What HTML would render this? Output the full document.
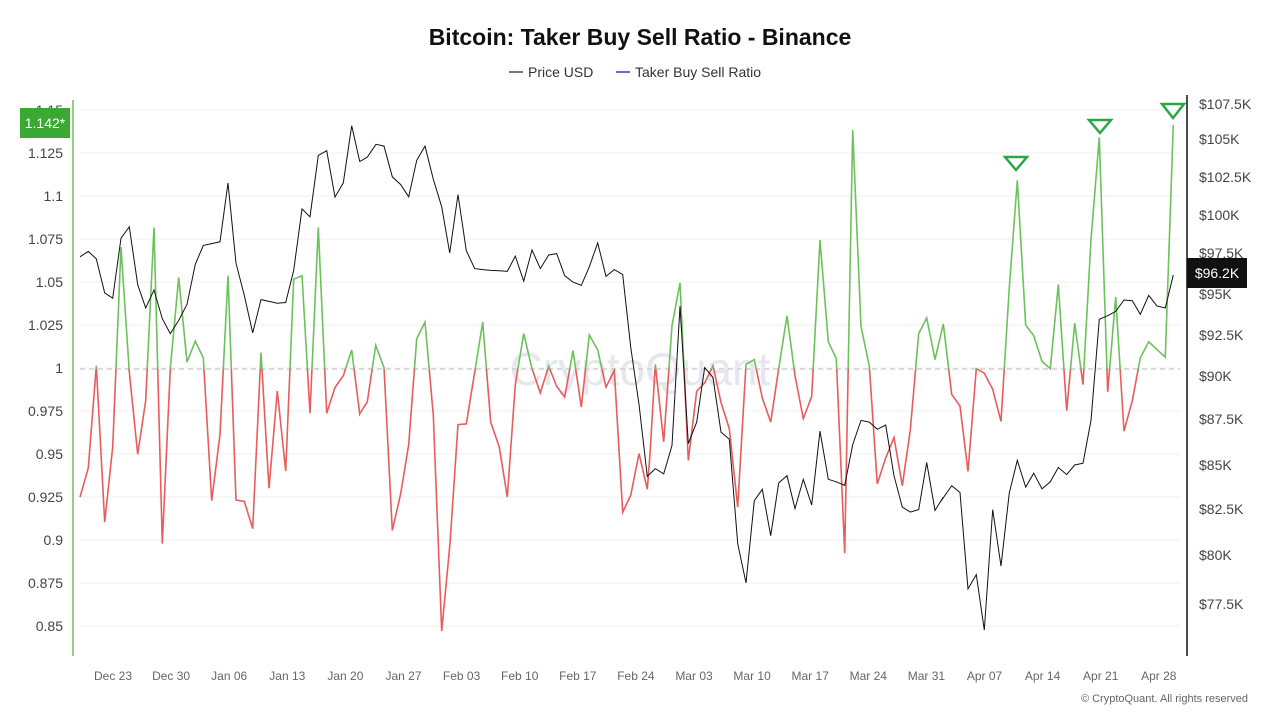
<!DOCTYPE html>
<html><head><meta charset="utf-8"><style>
body{margin:0;background:#fff;width:1280px;height:720px;overflow:hidden;font-family:"Liberation Sans",sans-serif}
svg text{font-family:"Liberation Sans",sans-serif}
</style></head><body>
<svg id="s" width="1280" height="720" xmlns="http://www.w3.org/2000/svg">
<text x="640" y="45" text-anchor="middle" font-size="23" font-weight="bold" fill="#111">Bitcoin: Taker Buy Sell Ratio - Binance</text>
<line x1="509" y1="72" x2="523" y2="72" stroke="#222" stroke-width="1.2"/>
<text x="528" y="77" font-size="14" fill="#333">Price USD</text>
<line x1="616" y1="72" x2="630" y2="72" stroke="#3b3bd6" stroke-width="1.5"/>
<text x="635" y="77" font-size="14" fill="#333">Taker Buy Sell Ratio</text>
<text x="640" y="385" text-anchor="middle" font-size="46" fill="#e6e6ee">CryptoQuant</text>
<g id="grid"></g>
<line x1="80" y1="369" x2="1180" y2="369" stroke="#c8c8d0" stroke-width="1.2" stroke-dasharray="5,4"/>
<defs>
<clipPath id="up"><rect x="0" y="0" width="1280" height="369"/></clipPath>
<clipPath id="dn"><rect x="0" y="369" width="1280" height="400"/></clipPath>
</defs>
<polyline id="pg" fill="none" stroke="#6cc25a" stroke-width="1.6" clip-path="url(#up)"/>
<polyline id="pr" fill="none" stroke="#e85c5c" stroke-width="1.6" clip-path="url(#dn)"/>
<polyline id="pp" fill="none" stroke="#111" stroke-width="1"/>
<g fill="none" stroke="#2aa845" stroke-width="2.5">
<polygon points="1005,157 1027,157 1016,170"/>
<polygon points="1089,120 1111,120 1100,133"/>
<polygon points="1162,104 1184,104 1173,118"/>
</g>
<line x1="73" y1="100" x2="73" y2="656" stroke="#6cc25a" stroke-width="1.5"/>
<line x1="1187" y1="95" x2="1187" y2="656" stroke="#111" stroke-width="1.5"/>
<g id="lt" font-size="14" fill="#444" text-anchor="end"></g>
<g id="rt" font-size="14" fill="#444"></g>
<rect x="20" y="108" width="50" height="30" fill="#3aa832"/>
<text x="45" y="128" text-anchor="middle" font-size="14" fill="#fff">1.142*</text>
<rect x="1187" y="258" width="60" height="30" fill="#111"/>
<text x="1217" y="278" text-anchor="middle" font-size="14" fill="#fff">$96.2K</text>
<g id="xt" font-size="12" fill="#666" text-anchor="middle"></g>
<text x="1248" y="702" text-anchor="end" font-size="11" fill="#666">© CryptoQuant. All rights reserved</text>
</svg>
<script>
var NS="http://www.w3.org/2000/svg";
function t(g,x,y,s){var e=document.createElementNS(NS,"text");e.setAttribute("x",x);e.setAttribute("y",y);e.textContent=s;document.getElementById(g).appendChild(e);}
var L=["1.15","1.125","1.1","1.075","1.05","1.025","1","0.975","0.95","0.925","0.9","0.875","0.85"];
for(var i=0;i<L.length;i++){var y=110+i*43;t("lt",63,y+5,L[i]);
var l=document.createElementNS(NS,"line");l.setAttribute("x1",80);l.setAttribute("x2",1180);l.setAttribute("y1",y);l.setAttribute("y2",y);l.setAttribute("stroke","#f2f2f2");document.getElementById("grid").appendChild(l);}
var R=[["$107.5K",104],["$105K",139],["$102.5K",177],["$100K",215],["$97.5K",253],["$95K",294],["$92.5K",335],["$90K",376],["$87.5K",419],["$85K",465],["$82.5K",509],["$80K",555],["$77.5K",604]];
R.forEach(function(r){t("rt",1199,r[1]+5,r[0]);});
var X=["Dec 23","Dec 30","Jan 06","Jan 13","Jan 20","Jan 27","Feb 03","Feb 10","Feb 17","Feb 24","Mar 03","Mar 10","Mar 17","Mar 24","Mar 31","Apr 07","Apr 14","Apr 21","Apr 28"];
X.forEach(function(s,i){t("xt",113+i*58.1,680,s);});
var RA=[[70,[[30,1140],[55,1058],[79,772],[104,1210],[128,1000],[153,440],[178,790],[203,1020],[227,870],[252,385],[277,1270],[301,780],[326,525],[351,762],[376,703],[400,750],[425,1150],[450,965],[474,520],[498,1148],[523,1152],[548,1228],[573,735],[597,1115],[622,843],[647,1067],[671,530],[696,520],[720,905],[745,385],[770,905],[795,833],[820,800],[845,728],[869,907]]],
[360,[[0,905],[22,873],[47,715],[72,777],[97,1233],[122,1130],[146,993],[170,697],[195,650],[220,910],[245,1515],[270,1270],[294,937],[319,935],[344,790],[368,650],[392,930],[418,1000],[442,1140],[466,825],[491,682],[516,780],[541,848],[566,773],[590,830],[614,860],[639,730],[664,888],[688,686],[713,728],[738,832],[763,785],[788,1182],[812,1135],[837,1018],[862,1118]]],
[650,[[0,1020],[16,768],[41,985],[66,660],[90,540],[115,1037],[140,843],[164,820],[189,772],[213,875],[238,948],[263,1168],[288,768],[313,755],[337,862],[362,930],[386,780],[411,632],[435,800],[460,920],[485,858],[510,420],[535,705],[559,752],[584,1297],[608,112],[633,662],[658,773],[682,1103],[707,1030],[732,973],[757,1108],[781,952],[806,682],[830,638],[855,755],[880,655]]],
[940,[[10,655],[35,852],[60,885],[84,1068],[109,780],[133,793],[158,838],[183,928],[208,553],[232,253],[257,658],[281,688],[306,760],[331,780],[355,545],[380,898],[404,653],[429,825],[453,418],[478,133],[503,845],[527,580],[552,955],[577,870],[601,750],[626,705],[651,727],[676,748],[700,98]]]];
var PA=[[70,[[30,467],[55,452],[79,473],[104,568],[128,583],[153,415],[178,383],[203,545],[227,610],[252,560],[277,640],[301,682],[326,645],[351,600],[376,488],[400,435],[425,430],[450,425],[474,260],[498,485],[523,575],[548,680],[573,587],[597,592],[622,597],[647,595],[671,505],[696,333],[720,355],[745,183],[770,170],[795,300],[820,260],[845,100],[869,200]]],
[360,[[0,200],[22,188],[48,152],[72,157],[97,243],[122,265],[146,299],[170,197],[195,157],[220,250],[245,327],[269,456],[294,293],[319,450],[344,500],[368,503],[393,505],[418,506],[442,508],[466,465],[491,535],[516,448],[541,500],[566,462],[590,458],[614,520],[639,538],[664,547],[688,495],[713,428],[738,522],[763,503],[788,517],[812,720],[837,880],[862,1082],[886,1060]]],
[650,[[16,1060],[41,1075],[66,995],[90,605],[115,990],[140,930],[164,777],[189,805],[213,958],[238,978],[263,1270],[288,1380],[313,1150],[337,1118],[362,1248],[386,1100],[411,1080],[435,1172],[460,1090],[485,1162],[510,955],[535,1090],[559,1097],[584,1107],[608,993],[633,925],[658,930],[682,950],[707,938],[732,1080],[757,1168],[781,1182],[806,1175],[830,1043],[855,1177],[880,1140]]],
[940,[[0,1155],[35,1108],[60,1127],[84,1397],[109,1357],[133,1512],[158,1175],[183,1333],[208,1128],[232,1037],[257,1112],[281,1073],[306,1117],[331,1097],[355,1057],[380,1077],[404,1050],[429,1045],[453,925],[478,642],[503,632],[527,620],[552,588],[577,590],[601,628],[626,575],[651,605],[676,610],[700,518]]]];
function pts(A){var o=[];A.forEach(function(s){s[1].forEach(function(p){o.push((s[0]+p[0]/3).toFixed(1)+","+(90+p[1]/2.8).toFixed(1));});});return o.join(" ");}
var r=pts(RA);document.getElementById("pg").setAttribute("points",r);document.getElementById("pr").setAttribute("points",r);
document.getElementById("pp").setAttribute("points",pts(PA));
</script>
</body></html>
